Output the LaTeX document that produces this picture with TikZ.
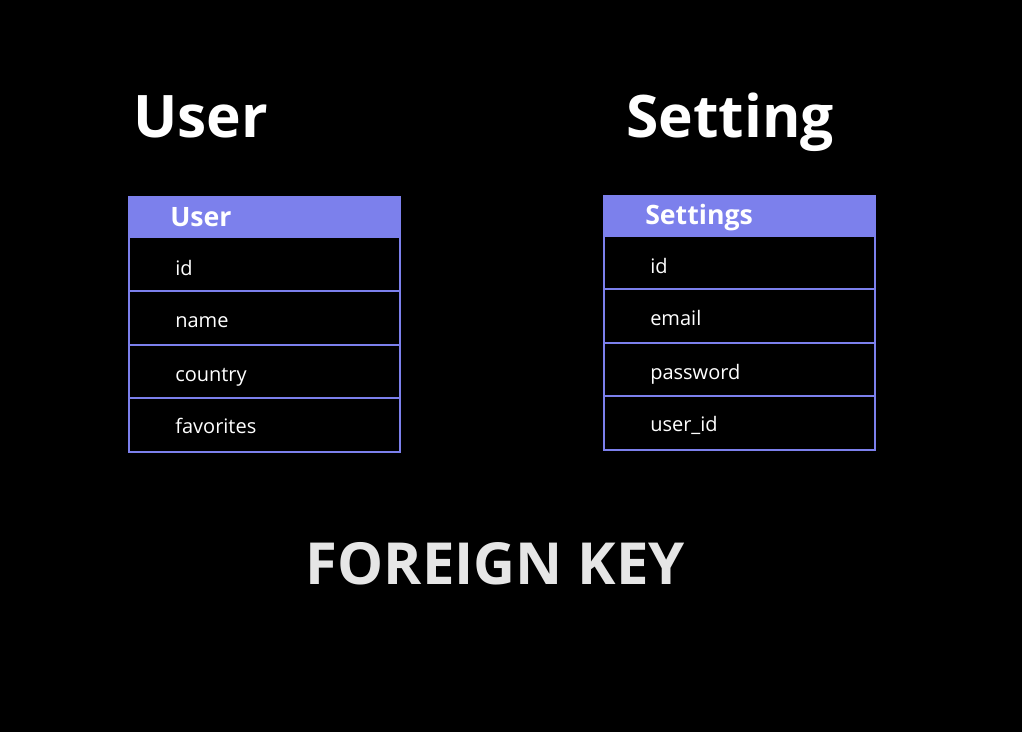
\documentclass[tikz,border=0pt]{standalone}
\usepackage{fontspec}
\setmainfont{Open Sans}
\usetikzlibrary{positioning}
\definecolor{tablecolor}{RGB}{124,128,236}
\definecolor{keygray}{RGB}{230,230,230}

\begin{document}
\begin{tikzpicture}[
    x=0.75pt, y=-0.75pt,
    title/.style={text=white, font=\fontsize{44}{48}\selectfont\bfseries, anchor=base west, inner sep=0pt},
    header/.style={draw=tablecolor, fill=tablecolor, line width=1.5pt, minimum width=203pt, minimum height=30pt, inner sep=0pt},
    field/.style={draw=tablecolor, fill=black, line width=1.5pt, minimum width=203pt, minimum height=40.5pt, inner sep=0pt},
    headtext/.style={text=white, font=\fontsize{20}{24}\selectfont\bfseries, anchor=base west, inner sep=0pt},
    fieldtext/.style={text=white, font=\fontsize{15}{18}\selectfont, anchor=base west, inner sep=0pt}
]
    % Background
    \fill[black] (0,0) rectangle (1022,732);

    % Titles
    \node[title] (usertitle) at (133,137) {User};
    \node[title] (settingtitle) at (626,137) {Setting};

    % User table
    \node[header] (userhead) at (264.5,217) {};
    \node[headtext] at (170,226) {User};
    \node[field] (userid) at (264.5,264) {};
    \node[fieldtext] at (175,275) {id};
    \node[field] (username) at (264.5,318) {};
    \node[fieldtext] at (175,327) {name};
    \node[field] (usercountry) at (264.5,371.5) {};
    \node[fieldtext] at (175,381) {country};
    \node[field] (userfav) at (264.5,425) {};
    \node[fieldtext] at (175,433) {favorites};

    % Settings table
    \node[header] (sethead) at (739.5,215.5) {};
    \node[headtext] at (645,224) {Settings};
    \node[field] (setid) at (739.5,262.5) {};
    \node[fieldtext] at (650,273) {id};
    \node[field] (setemail) at (739.5,316) {};
    \node[fieldtext] at (650,325) {email};
    \node[field] (setpass) at (739.5,369.5) {};
    \node[fieldtext] at (650,379) {password};
    \node[field] (setuser) at (739.5,423) {};
    \node[fieldtext] at (650,431) {user\_id};

    % Caption
    \node[text=keygray, font=\fontsize{43.5}{48}\selectfont\bfseries, anchor=base, inner sep=0pt] (fkey) at (495.5,584) {FOREIGN KEY};
\end{tikzpicture}
\end{document}
